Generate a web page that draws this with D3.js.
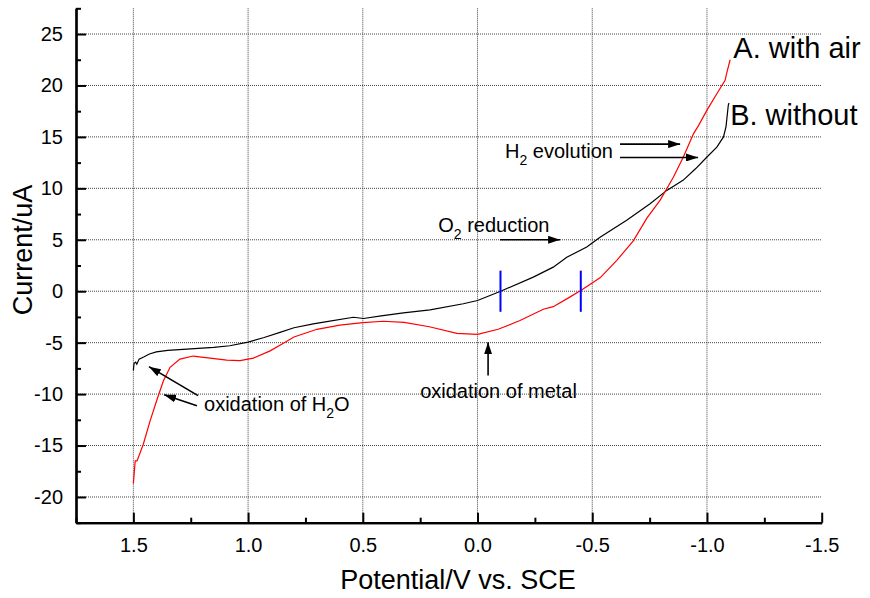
<!DOCTYPE html>
<html>
<head>
<meta charset="utf-8">
<script src="https://cdn.jsdelivr.net/npm/d3@7"></script>
<style>
    body { margin: 0; background: #fff; }
    text { font-family: "Liberation Sans", Arial, sans-serif; fill: #000; }
</style>
</head>
<body>
<svg id="chart" width="870" height="598"></svg>
<script>
// curve A: with air (red)  [potential V, current uA]
var withAir = [
    [1.5, -18.7], [1.492, -16.5], [1.484, -16.5], [1.457, -14.9], [1.427, -12.6],
    [1.398, -10.6], [1.369, -8.7], [1.34, -7.4], [1.297, -6.6], [1.239, -6.3],
    [1.166, -6.5], [1.093, -6.7], [1.035, -6.75], [0.977, -6.5], [0.904, -5.8],
    [0.85, -5.1], [0.80, -4.45], [0.70, -3.7], [0.60, -3.3], [0.50, -3.05],
    [0.41, -2.92], [0.32, -3.02], [0.21, -3.45], [0.09, -4.1], [0.0, -4.2],
    [-0.09, -3.7], [-0.185, -2.85], [-0.287, -1.75], [-0.33, -1.5], [-0.40, -0.6],
    [-0.45, 0.07], [-0.534, 1.3], [-0.607, 3.0], [-0.679, 4.9], [-0.738, 7.1],
    [-0.796, 8.85], [-0.854, 11.1], [-0.897, 13.05], [-0.941, 15.3], [-0.963, 16.1],
    [-1.0, 17.6], [-1.043, 19.2], [-1.079, 20.5], [-1.086, 21.2], [-1.101, 22.5]
];

// curve B: without air (black)
var withoutAir = [
    [1.5, -7.7], [1.497, -7.0], [1.49, -6.9], [1.485, -7.1], [1.475, -6.6],
    [1.455, -6.4], [1.43, -6.1], [1.40, -5.9], [1.35, -5.75], [1.25, -5.6],
    [1.15, -5.45], [1.08, -5.3], [1.0, -4.95], [0.93, -4.5], [0.861, -4.0],
    [0.80, -3.55], [0.716, -3.17], [0.657, -2.95], [0.541, -2.53], [0.497, -2.65],
    [0.42, -2.4], [0.323, -2.1], [0.207, -1.81], [0.062, -1.22], [0.0, -0.9],
    [-0.098, -0.03], [-0.243, 1.37], [-0.33, 2.34], [-0.389, 3.3], [-0.476, 4.3],
    [-0.534, 5.25], [-0.65, 6.9], [-0.752, 8.5], [-0.825, 9.8], [-0.897, 10.8],
    [-0.95, 11.9], [-1.0, 13.05], [-1.043, 14.0], [-1.072, 15.0], [-1.083, 16.0],
    [-1.093, 18.1], [-1.096, 18.3]
];

// blue markers at the zero crossings
var markerV = [-0.1, -0.45];
var markerSpan = [-2, 2];

var xMajor = [1.5, 1.0, 0.5, 0.0, -0.5, -1.0, -1.5];
var xMinor = [1.75, 1.25, 0.75, 0.25, -0.25, -0.75, -1.25];
var yMajor = [-20, -15, -10, -5, 0, 5, 10, 15, 20, 25];
var yMinor = [-22.5, -17.5, -12.5, -7.5, -2.5, 2.5, 7.5, 12.5, 17.5, 22.5, 27.5];

// annotation arrows: [fromV, fromI, toV, toI]
var arrows = [
    [-0.621, 14.3, -0.883, 14.3],
    [-0.621, 13.0, -0.961, 13.0],
    [-0.098, 5.0, -0.36, 5.0],
    [-0.046, -8.2, -0.046, -4.96],
    [1.218, -10.15, 1.432, -7.33],
    [1.223, -11.13, 1.366, -10.06]
];

var svg = d3.select("#chart"),
    plotL = 76, plotR = 821.7, plotT = 8.3, plotB = 522.7;

var x = d3.scaleLinear().domain([1.75, -1.5]).range([plotL, plotR]),
    y = d3.scaleLinear().domain([-22.5, 27.5]).range([plotB, plotT]);

// grid
svg.append("g")
    .selectAll("line")
    .data(xMajor.filter(d => d > -1.5))
    .join("line")
    .attr("x1", d => x(d)).attr("x2", d => x(d))
    .attr("y1", plotT).attr("y2", plotB)
    .attr("stroke", "#444").attr("stroke-width", 1)
    .attr("stroke-dasharray", "1,1");

svg.append("g")
    .selectAll("line")
    .data(yMajor)
    .join("line")
    .attr("x1", plotL).attr("x2", plotR)
    .attr("y1", d => y(d)).attr("y2", d => y(d))
    .attr("stroke", "#444").attr("stroke-width", 1)
    .attr("stroke-dasharray", "1,1");

// axes (ticks pointing inward)
var fmtX = d => d.toFixed(1).replace("-0.0", "0.0");
var fmtY = d => String(d);

svg.append("g")
    .attr("class", "axis")
    .attr("transform", "translate(0," + plotB + ")")
    .call(d3.axisBottom(x).tickValues(xMinor).tickSizeInner(-5).tickSizeOuter(0).tickFormat(""));
svg.append("g")
    .attr("class", "axis")
    .attr("transform", "translate(0," + plotB + ")")
    .call(d3.axisBottom(x).tickValues(xMajor).tickSizeInner(-10).tickSizeOuter(0).tickPadding(15).tickFormat(fmtX));

svg.append("g")
    .attr("class", "axis")
    .attr("transform", "translate(" + plotL + ",0)")
    .call(d3.axisLeft(y).tickValues(yMinor).tickSizeInner(-5).tickSizeOuter(0).tickFormat(""));
svg.append("g")
    .attr("class", "axis")
    .attr("transform", "translate(" + plotL + ",0)")
    .call(d3.axisLeft(y).tickValues(yMajor).tickSizeInner(-10).tickSizeOuter(0).tickPadding(13).tickFormat(fmtY));

svg.selectAll(".axis").attr("font-family", null).attr("font-size", null);
svg.selectAll(".axis path").attr("stroke", "#000").attr("stroke-width", 2.2);
svg.selectAll(".axis line").attr("stroke", "#000").attr("stroke-width", 2);
svg.selectAll(".axis text").style("font-size", "20px").attr("fill", "#000");

// axis titles
svg.append("text")
    .attr("x", 458)
    .attr("y", 589)
    .style("text-anchor", "middle")
    .style("font-size", "27px")
    .text("Potential/V vs. SCE");

svg.append("text")
    .attr("transform", "translate(32,250) rotate(-90)")
    .style("text-anchor", "middle")
    .style("font-size", "27px")
    .text("Current/uA");

// curves
var line = d3.line()
    .x(d => x(d[0]))
    .y(d => y(d[1]));

svg.append("path")
    .datum(withoutAir)
    .attr("fill", "none")
    .attr("stroke", "#000")
    .attr("stroke-width", 1.2)
    .attr("d", line);

svg.append("path")
    .datum(withAir)
    .attr("fill", "none")
    .attr("stroke", "#ff0000")
    .attr("stroke-width", 1.2)
    .attr("d", line);

// blue zero-crossing marks
svg.append("g")
    .selectAll("line")
    .data(markerV)
    .join("line")
    .attr("x1", d => x(d)).attr("x2", d => x(d))
    .attr("y1", y(markerSpan[0])).attr("y2", y(markerSpan[1]))
    .attr("stroke", "#0000ff")
    .attr("stroke-width", 2);

// arrows
svg.append("defs").append("marker")
    .attr("id", "head")
    .attr("viewBox", "0 0 12 8")
    .attr("refX", 12).attr("refY", 4)
    .attr("markerWidth", 12).attr("markerHeight", 8)
    .attr("markerUnits", "userSpaceOnUse")
    .attr("orient", "auto")
    .append("path")
    .attr("d", "M0,0 L12,4 L0,8 Z")
    .attr("fill", "#000");

svg.append("g")
    .selectAll("line")
    .data(arrows)
    .join("line")
    .attr("x1", d => x(d[0])).attr("y1", d => y(d[1]))
    .attr("x2", d => x(d[2])).attr("y2", d => y(d[3]))
    .attr("stroke", "#000")
    .attr("stroke-width", 1.6)
    .attr("marker-end", "url(#head)");

// labels
svg.append("text").attr("x", x(-1.115)).attr("y", y(22.66))
    .style("font-size", "29px").text("A. with air");
svg.append("text").attr("x", x(-1.101)).attr("y", y(16.14))
    .style("font-size", "29px").text("B. without");

function subLabel(v, i, before, sub, after) {
    var t = svg.append("text")
        .attr("x", x(v)).attr("y", y(i))
        .style("font-size", "20px");
    t.append("tspan").text(before);
    t.append("tspan").attr("dy", 7).style("font-size", "14px").text(sub);
    t.append("tspan").attr("dy", -7).text(after);
}

subLabel(-0.12, 12.99, "H", "2", " evolution");
subLabel(0.171, 5.75, "O", "2", " reduction");
subLabel(1.192, -11.68, "oxidation of H", "2", "O");

svg.append("text").attr("x", x(0.25)).attr("y", y(-10.35))
    .style("font-size", "20px").text("oxidation of metal");
</script>
</body>
</html>
